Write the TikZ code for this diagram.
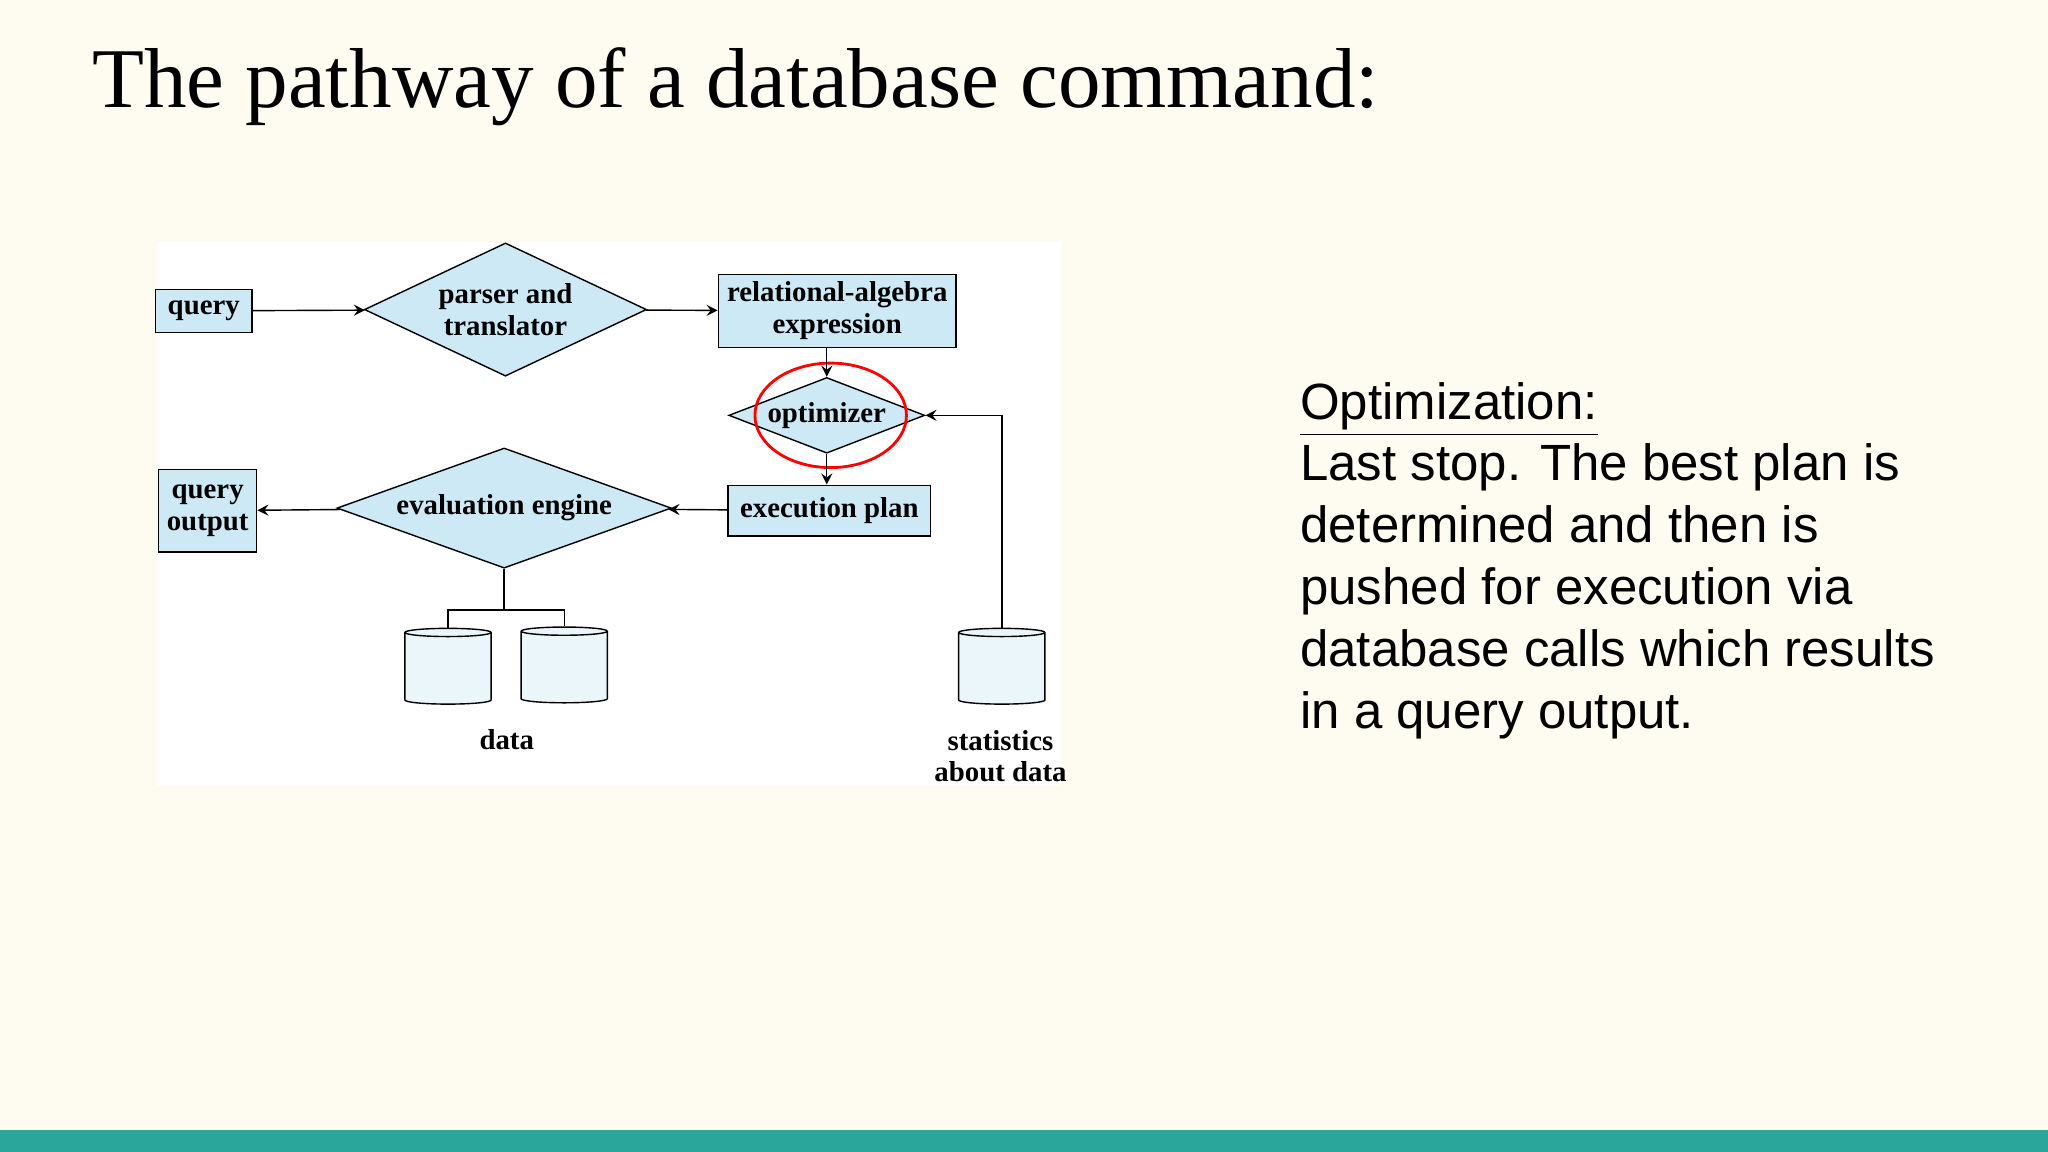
\documentclass[tikz,border=0pt]{standalone}
\usepackage{fontspec}
\setmainfont{Liberation Serif}
\newfontfamily\slidesans{Liberation Sans}
\usetikzlibrary{positioning,shapes.geometric}
\newcommand{\pu}{0.013061cm}
\definecolor{slidebg}{RGB}{254,252,240}
\definecolor{tealbar}{RGB}{42,166,154}
\definecolor{boxblue}{RGB}{204,233,245}
\begin{document}
\begin{tikzpicture}[%
  x=0.013061cm, y=-0.013061cm,
  ->,
  >=stealth,
  box/.style={draw, fill=boxblue, font=\bfseries\fontsize{8.2}{9}\selectfont, align=center, inner sep=0pt},
  dia/.style={draw, diamond, fill=boxblue, font=\bfseries\fontsize{8.2}{9}\selectfont, align=center, inner sep=0pt},
  db/.style={draw, cylinder, shape border rotate=90, aspect=0.35, fill=boxblue!40, minimum width=66*\pu, minimum height=58*\pu},
  lbl/.style={font=\bfseries\fontsize{8.2}{9}\selectfont, align=center}
  ]
  %% Background
  \fill[slidebg] (0,0) rectangle (1568,882);
  \fill[tealbar] (0,865) rectangle (1568,882);
  \useasboundingbox (0,0) rectangle (1568,882);
  \node[anchor=base west, inner sep=0pt, font=\fontsize{24.2}{28}\selectfont] (title) at (70,82) {The pathway of a database command:};
  \fill[white] (120,185) rectangle (812,602);
  %% Nodes
  \node[box, minimum width=74*\pu, minimum height=33*\pu] (query) at (156,238) {query};
  \node[dia, aspect=2.12, minimum width=216*\pu, minimum height=102*\pu] (parser) at (387,237) {parser and\\translator};
  \node[box, minimum width=182*\pu, minimum height=56*\pu] (relalg) at (641,238) {relational-algebra\\expression};
  \node[dia, aspect=2.6, minimum width=150*\pu, minimum height=58*\pu] (opt) at (633,318) {optimizer};
  \node[box, minimum width=155*\pu, minimum height=39*\pu] (plan) at (635,391) {execution plan};
  \node[dia, aspect=2.8, minimum width=256*\pu, minimum height=92*\pu] (eval) at (386,389) {evaluation engine};
  \node[box, minimum width=75*\pu, minimum height=63*\pu] (qout) at (159,391) {query\\output};
  \node[db] (dataA) at (343,513) {};
  \node[db] (dataB) at (432,512) {};
  \node[db] (stats) at (767,513) {};
  \node[lbl] (datalbl) at (388,566) {data};
  \node[lbl] (statslbl) at (766,579) {statistics\\about data};
  \node[draw=red, thick, ellipse, minimum width=116*\pu, minimum height=80*\pu, -] (ring) at (636,318) {};
  \coordinate (split) at (386,467);
  %% Edges
  \draw (query) -- (parser);
  \draw (parser) -- (relalg);
  \draw (relalg.south -| opt.north) -- (opt.north);
  \draw (opt.south) -- (opt.south |- plan.north);
  \draw (plan) -- (eval);
  \draw (eval) -- (qout);
  \draw[-] (eval.south) -- (split);
  \draw[-] (split) -| (dataA.north);
  \draw[-] (split) -| (dataB.north);
  \draw (stats.north) |- (opt.east);
  %% Side text
  \node[anchor=north west, inner sep=0pt, align=left, font=\slidesans\fontsize{14.5}{17.6}\selectfont] (notes) at (995,292)
    {\underline{Optimization:}\\Last stop. The best plan is\\determined and then is\\pushed for execution via\\database calls which results\\in a query output.};
\end{tikzpicture}
\end{document}
